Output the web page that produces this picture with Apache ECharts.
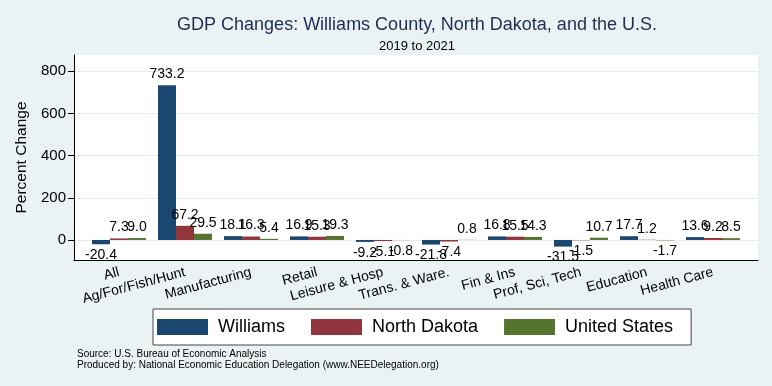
<!DOCTYPE html>
<html><head><meta charset="utf-8">
<script src="https://cdn.jsdelivr.net/npm/echarts@6/dist/echarts.min.js"></script>
<style>html,body{margin:0;padding:0;background:#eaf2f3}#c{width:772px;height:386px}</style>
</head><body><div id="c"></div>
<script>
const categories = ['All','Ag/For/Fish/Hunt','Manufacturing','Retail','Leisure & Hosp','Trans. & Ware.','Fin & Ins','Prof, Sci, Tech','Education','Health Care'];
const williams = [-20.4, 733.2, 18.1, 16.9, -9.2, -21.8, 16.8, -31.5, 17.7, 13.6];
const northDakota = [7.3, 67.2, 16.3, 15.3, -5.1, -7.4, 15.5, -1.5, 1.2, 9.2];
const unitedStates = [9.0, 29.5, 5.4, 19.3, -0.8, 0.8, 14.3, 10.7, -1.7, 8.5];
const yTicks = [0, 200, 400, 600, 800];
const seriesNames = ['Williams', 'North Dakota', 'United States'];
const titleText = 'GDP Changes: Williams County, North Dakota, and the U.S.';
const subtitleText = '2019 to 2021';
const sourceText = 'Source: U.S. Bureau of Economic Analysis\nProduced by: National Economic Education Delegation (www.NEEDelegation.org)';

const colors = ['#1a476f', '#90353b', '#55752f'];
const FONT = '"Liberation Sans", Arial, Helvetica, sans-serif';
const Y_MIN = -95, Y_MAX = 877;

function barData(arr) {
  return arr.map(v => ({ value: v, label: { position: v < 0 ? 'bottom' : 'top' } }));
}
const allSeries = [williams, northDakota, unitedStates].map((arr, i) => ({
  name: seriesNames[i],
  type: 'bar',
  xAxisIndex: 1, yAxisIndex: 1,
  barWidth: 18, barGap: '0%',
  itemStyle: { color: colors[i] },
  label: { show: true, fontSize: 14, color: '#000', distance: 4, fontFamily: FONT,
           formatter: p => Number(p.value).toFixed(1) },
  data: barData(arr)
}));

const chart = echarts.init(document.getElementById('c'));
chart.setOption({
  backgroundColor: '#eaf2f3',
  animation: false,
  textStyle: { fontFamily: FONT },
  color: colors,
  title: [{
    text: sourceText, left: 77, top: 349, padding: 0,
    textStyle: { fontSize: 10, fontWeight: 'normal', color: '#000', lineHeight: 11, fontFamily: FONT }
  }],
  graphic: [
    { type: 'text', x: 417, y: 25, style: { text: titleText, align: 'center', verticalAlign: 'middle', fontSize: 18, fontFamily: FONT, fill: '#1e2d52' } },
    { type: 'text', x: 417, y: 46, style: { text: subtitleText, align: 'center', verticalAlign: 'middle', fontSize: 13, fontFamily: FONT, fill: '#000' } }
  ],
  legend: {
    left: 153, top: 309,
    itemWidth: 51, itemHeight: 16, itemGap: 26,
    padding: [9, 18, 9, 4],
    borderColor: '#444', borderWidth: 1, backgroundColor: '#fff',
    icon: 'rect',
    textStyle: { fontSize: 18, color: '#000', fontFamily: FONT, padding: [0, 0, 0, 5] },
    data: seriesNames
  },
  grid: [
    { left: 74, right: 14, top: 55, bottom: 126, show: true, backgroundColor: '#fff', borderWidth: 0 },
    { left: 86, right: 26, top: 55, bottom: 126 }
  ],
  xAxis: [
    { gridIndex: 0, type: 'value', min: 0, max: 1,
      axisLine: { show: true, onZero: false, lineStyle: { color: '#000' } },
      axisTick: { show: false }, axisLabel: { show: false }, splitLine: { show: false } },
    { gridIndex: 1, type: 'category', data: categories,
      axisLine: { show: false }, axisTick: { show: false },
      axisLabel: { interval: 0, rotate: 15, fontSize: 14, color: '#000', margin: 12, fontFamily: FONT } }
  ],
  yAxis: [
    { gridIndex: 0, type: 'value', min: Y_MIN, max: Y_MAX,
      name: 'Percent Change', nameLocation: 'middle', nameGap: 37,
      nameTextStyle: { fontSize: 15.5, color: '#000', fontFamily: FONT },
      axisLine: { show: true, onZero: false, lineStyle: { color: '#000' } },
      axisTick: { show: true, length: 6, customValues: yTicks, lineStyle: { color: '#000' } },
      axisLabel: { customValues: yTicks, fontSize: 15, color: '#000', margin: 8, fontFamily: FONT },
      splitLine: { show: true, lineStyle: { color: '#e4ecee' } } },
    { gridIndex: 1, type: 'value', min: Y_MIN, max: Y_MAX, show: false, splitLine: { show: false } }
  ],
  series: allSeries
});
</script></body></html>
